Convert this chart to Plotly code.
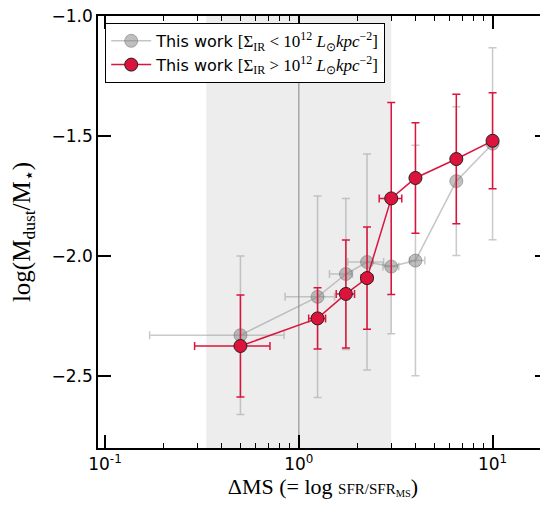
import plotly.graph_objects as go

# ---- data ----
dms = [0.5, 1.25, 1.75, 2.25, 3.0, 4.0, 6.5, 10.0]

# low surface density (gray)
low_y = [-2.33, -2.17, -2.075, -2.025, -2.044, -2.019, -1.688, -1.532]
low_yerr = [0.33, 0.42, 0.315, 0.45, 0.28, 0.48, 0.31, 0.40]
low_xerr_plus = [0.34, 0.28, 0.14, 0.49, 0.28, 0.47, 0.0, 0.0]
low_xerr_minus = [0.33, 0.40, 0.31, 0.46, 0.28, 0.27, 0.0, 0.0]

# high surface density (red)
high_y = [-2.375, -2.26, -2.158, -2.092, -1.76, -1.675, -1.596, -1.52]
high_yerr = [0.213, 0.128, 0.225, 0.213, 0.40, 0.23, 0.27, 0.20]
high_xerr = [0.21, 0.125, 0.19, 0.15, 0.40, 0.0, 0.0, 0.0]

y_ticks = [-2.5, -2.0, -1.5, -1.0]
x_ticks = [0.1, 1, 10]
x_ticktext = ["10<sup>-1</sup>", "10<sup>0</sup>", "10<sup>1</sup>"]

shade_range = [1 / 3, 3]

SERIF = "Liberation Serif, DejaVu Serif, serif"
SANS = "DejaVu Sans, sans-serif"

fig = go.Figure()

fig.add_vrect(x0=shade_range[0], x1=shade_range[1], fillcolor="#ededed",
              line_width=0, layer="below")
fig.add_vline(x=1, line_color="#a6a6a6", line_width=1.5, layer="below")

MATH = "<span style='font-family:Liberation Serif;font-size:17px'>"

gray_err = "rgba(150,150,150,0.5)"
fig.add_trace(go.Scatter(
    x=dms, y=low_y, mode="lines+markers",
    name=("This work " + MATH + "[Σ<sub>IR</sub> &lt; 10<sup>12</sup> "
          "<i>L</i><sub>⊙</sub><i>kpc</i><sup>−2</sup>]</span>"),
    line=dict(color="rgba(150,150,150,0.55)", width=1.5),
    marker=dict(size=13, color="rgba(128,128,128,0.5)",
                line=dict(color="rgba(110,110,110,0.5)", width=1)),
    error_y=dict(type="data", array=low_yerr, symmetric=True, color=gray_err,
                 thickness=1.5, width=4),
    error_x=dict(type="data", array=low_xerr_plus, arrayminus=low_xerr_minus,
                 symmetric=False, color=gray_err, thickness=1.5, width=4),
))

red = "#dc143c"
fig.add_trace(go.Scatter(
    x=dms, y=high_y, mode="lines+markers",
    name=("This work " + MATH + "[Σ<sub>IR</sub> &gt; 10<sup>12</sup> "
          "<i>L</i><sub>⊙</sub><i>kpc</i><sup>−2</sup>]</span>"),
    line=dict(color=red, width=1.5),
    marker=dict(size=13, color=red, line=dict(color="#222222", width=1)),
    error_y=dict(type="data", array=high_yerr, symmetric=True, color=red,
                 thickness=1.5, width=4),
    error_x=dict(type="data", array=high_xerr, symmetric=True, color=red,
                 thickness=1.5, width=4),
))

fig.update_layout(
    width=548, height=510,
    margin=dict(l=90, r=8, t=8, b=70, autoexpand=False),
    plot_bgcolor="white", paper_bgcolor="white",
    font=dict(family=SANS, size=17, color="black"),
    showlegend=True,
    legend=dict(x=0.016, y=0.984, xanchor="left", yanchor="top",
                bgcolor="white", bordercolor="black", borderwidth=1,
                font=dict(family=SANS, size=16), tracegroupgap=0,
                itemwidth=40),
)

fig.update_xaxes(
    type="log", range=[-1.036, 1.286], automargin=False,
    tickvals=x_ticks, ticktext=x_ticktext,
    ticks="inside", ticklen=13, tickwidth=1.5, tickcolor="black",
    minor=dict(ticks="inside", ticklen=5, tickwidth=1, tickcolor="black",
               dtick="D1", showgrid=False),
    showline=True, linecolor="black", linewidth=1.5, mirror="ticks",
    showgrid=False, zeroline=False,
    tickfont=dict(family=SANS, size=17),
    title=dict(text=("ΔMS (= log <span style='font-size:15px'>"
                     "SFR/SFR<sub>MS</sub></span>)"),
               font=dict(family=SERIF, size=22), standoff=4),
)

fig.update_yaxes(
    range=[-2.8, -1.0], tickvals=y_ticks, tickformat=".1f",
    ticklabeloverflow="allow", automargin=False,
    ticks="inside", ticklen=13, tickwidth=1.5, tickcolor="black",
    showline=True, linecolor="black", linewidth=1.5, mirror="ticks",
    showgrid=False, zeroline=False,
    tickfont=dict(family=SANS, size=17),
    title=dict(text="log(M<sub>dust</sub>/M<sub>⋆</sub>)",
               font=dict(family=SERIF, size=25)),
)

fig.write_html("out.html")
